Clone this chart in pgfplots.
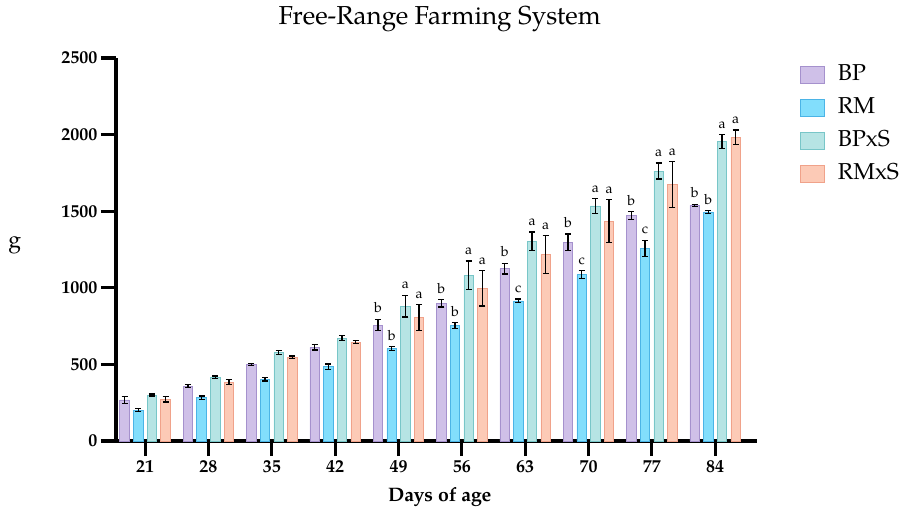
\documentclass[border=0pt]{standalone}
\usepackage{fontspec}
\setmainfont{TeX Gyre Pagella}
\usepackage{pgfplots}
\usepackage{pgfplotstable}
\pgfplotsset{compat=1.18}
\definecolor{bpF}{RGB}{207,192,232}
\definecolor{bpD}{RGB}{165,145,205}
\definecolor{rmF}{RGB}{130,222,252}
\definecolor{rmD}{RGB}{75,180,230}
\definecolor{bsF}{RGB}{182,228,228}
\definecolor{bsD}{RGB}{120,198,200}
\definecolor{rsF}{RGB}{252,202,182}
\definecolor{rsD}{RGB}{240,162,138}
\pgfplotstableread{
x y e
0 268 21
1 359 11
2 498 6
3 611 17
4 757 37
5 899 24
6 1125 35
7 1297 54
8 1470 26
9 1538 8
}\bp
\pgfplotstableread{
x y e
0 202 10
1 283 11
2 403 11
3 485 18
4 605 12
5 753 20
6 914 12
7 1086 27
8 1258 52
9 1495 10
}\rm
\pgfplotstableread{
x y e
0 300 6
1 416 9
2 577 13
3 672 15
4 881 71
5 1082 92
6 1303 61
7 1534 48
8 1762 52
9 1955 45
}\bps
\pgfplotstableread{
x y e
0 272 17
1 385 17
2 546 9
3 646 10
4 807 84
5 997 115
6 1218 124
7 1436 140
8 1675 149
9 1982 48
}\rms
\pgfplotsset{
  myleg/.style={legend image code/.code={\draw[##1] (0pt,-8.5pt) rectangle (24pt,8.5pt); \path (37pt,0pt);}},
  mybar/.style={ybar, bar width=9.5pt, line width=0.8pt, myleg},
  myerr/.style={draw=none, mark=none, forget plot,
    error bars/.cd, y dir=both, y explicit,
    error bar style={draw=black, line width=1.3pt},
    error mark options={draw=black, rotate=90, mark size=3pt, line width=1.3pt}},
}
\begin{document}
\begin{tikzpicture}
\path[use as bounding box] (0,0) rectangle (902pt,507pt);
\begin{axis}[
  at={(116pt,66pt)}, anchor=south west,
  scale only axis, width=641pt, height=383pt,
  xmin=-0.46, xmax=9.66, ymin=0, ymax=2500,
  axis x line*=bottom, axis y line*=left,
  axis line style={line width=3.2pt, black},
  every tick/.append style={line width=3.2pt, black},
  tick align=outside, major tick length=15pt,
  xtick={0,...,9},
  xticklabels={21,28,35,42,49,56,63,70,77,84},
  ytick={0,500,1000,1500,2000,2500},
  /pgf/number format/assume math mode=true,
  /pgf/number format/1000 sep={},
  ticklabel style={font=\bfseries\fontsize{18}{20}\selectfont},
  xticklabel style={yshift=-1pt},
  title={Free-Range Farming System},
  title style={font=\fontsize{26}{30}\selectfont, at={(rel axis cs:0.505,1.086)}, anchor=center},
  xlabel={Days of age},
  xlabel style={font=\bfseries\fontsize{19.5}{22}\selectfont, at={(rel axis cs:0.505,-0.146)}, anchor=center},
  ylabel={g},
  ylabel style={font=\fontsize{23}{26}\selectfont, rotate=-90, at={(rel axis cs:-0.158,0.512)}, anchor=center},
  legend style={at={(rel axis cs:1.067,0.979)}, anchor=north west, draw=none, fill=none,
    font=\fontsize{23}{26}\selectfont, inner sep=0pt, row sep=15pt,
    nodes={inner sep=0pt, text height=14pt, text depth=3pt}},
  legend cell align=left,
]
\addplot[mybar, bar shift=-20.5pt, fill=bpF, draw=bpD] table[x=x, y=y] {\bp};
\addplot[mybar, bar shift=-6.85pt, fill=rmF, draw=rmD] table[x=x, y=y] {\rm};
\addplot[mybar, bar shift=6.85pt, fill=bsF, draw=bsD] table[x=x, y=y] {\bps};
\addplot[mybar, bar shift=20.5pt, fill=rsF, draw=rsD] table[x=x, y=y] {\rms};
\legend{BP,RM,BPxS,RMxS}
\addplot[myerr] table[x expr=\thisrow{x}-0.3237, y=y, y error=e] {\bp};
\addplot[myerr] table[x expr=\thisrow{x}-0.1081, y=y, y error=e] {\rm};
\addplot[myerr] table[x expr=\thisrow{x}+0.1081, y=y, y error=e] {\bps};
\addplot[myerr] table[x expr=\thisrow{x}+0.3237, y=y, y error=e] {\rms};
\addplot[draw=none, mark=none, forget plot,
  nodes near coords, point meta=explicit symbolic,
  nodes near coords style={anchor=south, black, inner sep=0pt, yshift=6pt, font=\fontsize{14}{16}\selectfont}]
  table[x=x, y=y, meta=l] {
x y l
3.6763 794 b
3.8919 617 b
4.1081 952 a
4.3237 891 a
4.6763 923 b
4.8919 773 b
5.1081 1174 a
5.3237 1112 a
5.6763 1160 b
5.8919 926 c
6.1081 1364 a
6.3237 1342 a
6.6763 1351 b
6.8919 1113 c
7.1081 1582 a
7.3237 1576 a
7.6763 1496 b
7.8919 1310 c
8.1081 1814 a
8.3237 1824 a
8.6763 1546 b
8.8919 1505 b
9.1081 2000 a
9.3237 2030 a
};
\end{axis}
\end{tikzpicture}
\end{document}
